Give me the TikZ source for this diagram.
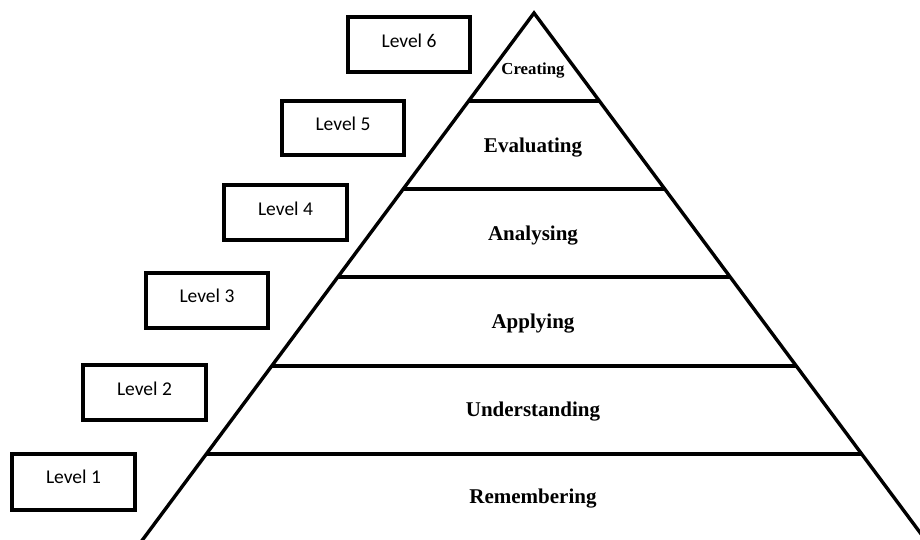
\documentclass[tikz,border=0pt]{standalone}
\usepackage{fontspec}
\setmainfont{Liberation Serif}
\newfontfamily\lvlfont{Carlito}
\begin{document}
\begin{tikzpicture}[x=1pt,y=-1pt,
  lvlbox/.style={draw=black,line width=3.2pt,minimum width=120pt,minimum height=52pt,inner sep=0pt},
  lvltext/.style={font=\lvlfont\fontsize{19.5}{23}\selectfont,inner sep=0pt},
  tier/.style={font=\bfseries\fontsize{21}{25}\selectfont,inner sep=0pt},
  edge/.style={line width=3.4pt,line cap=butt},
  divider/.style={line width=3.4pt}]
\useasboundingbox (0,0) rectangle (920,539);
\clip (0,0) rectangle (920,539);
% pyramid outline
\coordinate (apex) at (534,13);
\coordinate (bl) at (138.7,545);
\coordinate (br) at (929.3,545);
\draw[edge,line join=miter] (bl) -- (apex) -- (br);
% dividers
\coordinate (d1l) at (468.6,101); \coordinate (d1r) at (599.4,101);
\coordinate (d2l) at (403.2,189); \coordinate (d2r) at (664.8,189);
\coordinate (d3l) at (337.8,277); \coordinate (d3r) at (730.2,277);
\coordinate (d4l) at (271.7,366); \coordinate (d4r) at (796.3,366);
\coordinate (d5l) at (206.3,454); \coordinate (d5r) at (861.7,454);
\draw[divider] (d1l) -- (d1r);
\draw[divider] (d2l) -- (d2r);
\draw[divider] (d3l) -- (d3r);
\draw[divider] (d4l) -- (d4r);
\draw[divider] (d5l) -- (d5r);
% tier labels
\node[tier,font=\bfseries\fontsize{16.8}{20}\selectfont] (t6) at (533,71) {Creating};
\node[tier] (t5) at (533,148) {Evaluating};
\node[tier] (t4) at (533,236) {Analysing};
\node[tier] (t3) at (533,324) {Applying};
\node[tier] (t2) at (533,412) {Understanding};
\node[tier] (t1) at (533,499) {Remembering};
% level boxes
\node[lvlbox,minimum width=122pt,minimum height=55pt] (l6) at (409,44.5) {};
\node[lvlbox,minimum width=122pt,minimum height=54pt] (l5) at (343,128) {};
\node[lvlbox,minimum width=123pt,minimum height=55pt] (l4) at (285.5,212.5) {};
\node[lvlbox,minimum width=122pt,minimum height=55pt] (l3) at (207,300.5) {};
\node[lvlbox,minimum width=123pt,minimum height=55pt] (l2) at (144.5,392.5) {};
\node[lvlbox,minimum width=123pt,minimum height=56pt] (l1) at (73.5,482) {};
\node[lvltext] (l6t) at ([yshift=4pt]l6.center) {Level 6};
\node[lvltext] (l5t) at ([yshift=4pt]l5.center) {Level 5};
\node[lvltext] (l4t) at ([yshift=4pt]l4.center) {Level 4};
\node[lvltext] (l3t) at ([yshift=5pt]l3.center) {Level 3};
\node[lvltext] (l2t) at ([yshift=4pt]l2.center) {Level 2};
\node[lvltext] (l1t) at ([yshift=5pt]l1.center) {Level 1};
\end{tikzpicture}
\end{document}
